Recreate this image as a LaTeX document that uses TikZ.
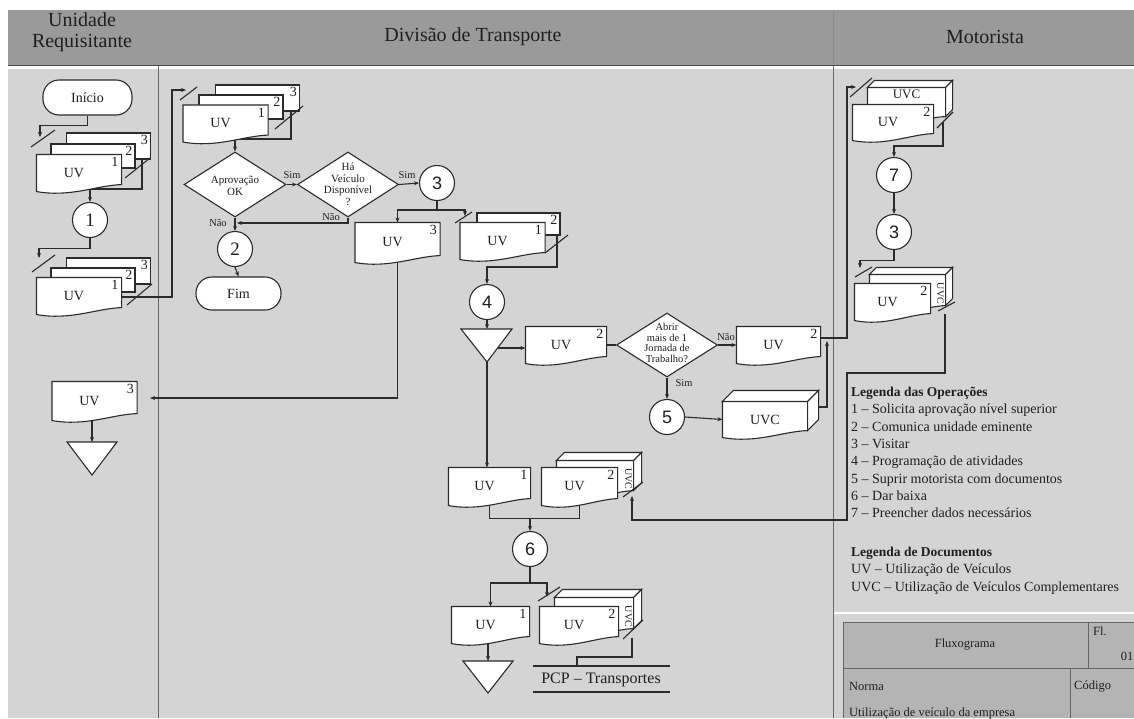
\documentclass[tikz,border=0pt]{standalone}
\usepackage{fontspec}
\setmainfont{Liberation Serif}
\newfontfamily\numsans{Liberation Sans}
\usetikzlibrary{arrows.meta,calc,shapes.geometric}

\pgfdeclarelayer{bg}
\pgfdeclarelayer{wires}
\pgfsetlayers{bg,wires,main}

\definecolor{linec}{HTML}{2B2B2B}
\definecolor{txtc}{HTML}{1F1F1F}
\definecolor{bodyc}{HTML}{D4D4D4}
\definecolor{hdrc}{HTML}{9A9A9A}
\definecolor{tbc}{HTML}{B4B4B4}
\definecolor{lanec}{HTML}{6A6A6A}

\makeatletter
% anchors shared by the flowchart symbols (taken over from the rectangle)
\def\fc@anchors{%
  \inheritsavedanchors[from=rectangle]%
  \inheritanchorborder[from=rectangle]%
  \inheritanchor[from=rectangle]{center}%
  \inheritanchor[from=rectangle]{north}%
  \inheritanchor[from=rectangle]{south}%
  \inheritanchor[from=rectangle]{east}%
  \inheritanchor[from=rectangle]{west}%
  \inheritanchor[from=rectangle]{north east}%
  \inheritanchor[from=rectangle]{north west}%
  \inheritanchor[from=rectangle]{south east}%
  \inheritanchor[from=rectangle]{south west}%
  \inheritanchor[from=rectangle]{mid}%
  \inheritanchor[from=rectangle]{base}%
}
% document symbol: rectangle whose bottom edge is a wave
\def\fc@wave{%
  \southwest \edef\fc@xa{\the\pgf@x}\edef\fc@ya{\the\pgf@y}%
  \northeast \edef\fc@xb{\the\pgf@x}\edef\fc@yb{\the\pgf@y}%
  \pgf@xc=\fc@xb\relax \advance\pgf@xc by -\fc@xa\relax
  \pgf@x=\fc@xa\relax \advance\pgf@x by 0.4\pgf@xc \edef\fc@xc{\the\pgf@x}%
  \pgf@x=\fc@xa\relax \advance\pgf@x by 0.7\pgf@xc \edef\fc@xd{\the\pgf@x}%
  \pgf@y=\fc@ya\relax \advance\pgf@y by -6pt \edef\fc@yc{\the\pgf@y}%
  \pgf@y=\fc@ya\relax \advance\pgf@y by 6pt \edef\fc@yd{\the\pgf@y}%
  \pgf@y=\fc@ya\relax \advance\pgf@y by 7pt \edef\fc@ye{\the\pgf@y}%
  \pgfpathmoveto{\pgfqpoint{\fc@xa}{\fc@yb}}%
  \pgfpathlineto{\pgfqpoint{\fc@xb}{\fc@yb}}%
  \pgfpathlineto{\pgfqpoint{\fc@xb}{\fc@ye}}%
  \pgfpathcurveto{\pgfqpoint{\fc@xd}{\fc@yd}}{\pgfqpoint{\fc@xc}{\fc@yc}}{\pgfqpoint{\fc@xa}{\fc@ya}}%
  \pgfpathclose
}
\pgfdeclareshape{fcdoc}{\fc@anchors \backgroundpath{\fc@wave}}
\pgfkeys{/tikz/box depth/.initial=10pt}
% document drawn as a box (top and side faces added)
\pgfdeclareshape{fcbox}{\fc@anchors
  \backgroundpath{%
    \fc@wave
    \edef\fc@d{\pgfkeysvalueof{/tikz/box depth}}%
    \pgf@x=\fc@xa\relax \advance\pgf@x by \fc@d\relax \edef\fc@xe{\the\pgf@x}%
    \pgf@x=\fc@xb\relax \advance\pgf@x by \fc@d\relax \edef\fc@xf{\the\pgf@x}%
    \pgf@y=\fc@yb\relax \advance\pgf@y by \fc@d\relax \edef\fc@yf{\the\pgf@y}%
    \pgf@y=\fc@ye\relax \advance\pgf@y by \fc@d\relax \edef\fc@yg{\the\pgf@y}%
    \pgfpathmoveto{\pgfqpoint{\fc@xa}{\fc@yb}}%
    \pgfpathlineto{\pgfqpoint{\fc@xe}{\fc@yf}}%
    \pgfpathlineto{\pgfqpoint{\fc@xf}{\fc@yf}}%
    \pgfpathlineto{\pgfqpoint{\fc@xb}{\fc@yb}}%
    \pgfpathclose
    \pgfpathmoveto{\pgfqpoint{\fc@xb}{\fc@yb}}%
    \pgfpathlineto{\pgfqpoint{\fc@xf}{\fc@yf}}%
    \pgfpathlineto{\pgfqpoint{\fc@xf}{\fc@yg}}%
    \pgfpathlineto{\pgfqpoint{\fc@xb}{\fc@ye}}%
    \pgfpathclose
  }%
}
\makeatother

\newcommand\docuv{UV\kern10pt}

\begin{document}
\begin{tikzpicture}[x=1pt, y=-1pt,
  wire/.style={draw=linec, line width=1.1pt},
  arr/.style={wire, -{Stealth[length=5pt,width=4pt]}},
  slashmark/.style={draw=linec, line width=1.1pt},
  outlined/.style={draw=linec, line width=1.1pt, fill=white},
  uvdoc/.style={outlined, shape=fcdoc, inner sep=0pt, minimum width=84pt, minimum height=36pt, font=\fontsize{14}{16}\selectfont, text=txtc},
  copydoc/.style={outlined, rectangle, inner sep=0pt, minimum width=84pt, minimum height=25pt},
  uvcbox/.style={outlined, shape=fcbox, inner sep=0pt, minimum width=84pt, minimum height=36pt, font=\fontsize{14}{16}\selectfont, text=txtc},
  num/.style={anchor=north east, inner sep=3pt, font=\fontsize{14}{16}\selectfont, text=txtc},
  uvcside/.style={rotate=-90, anchor=north, inner sep=1.5pt, font=\fontsize{10}{11}\selectfont, text=txtc},
  op/.style={outlined, circle, minimum size=35pt, inner sep=0pt, font=\numsans\fontsize{18}{20}\selectfont, text=txtc},
  opserif/.style={op, font=\fontsize{19}{20}\selectfont},
  term/.style={outlined, rectangle, rounded corners=16pt, minimum width=86pt, minimum height=34pt, inner sep=0pt, font=\fontsize{14}{16}\selectfont, text=txtc},
  decision/.style={outlined, diamond, minimum width=102pt, minimum height=65pt, inner sep=0pt},
  dectext/.style={align=center, inner sep=0pt, font=\fontsize{11}{11.5}\selectfont, text=txtc},
  branchlab/.style={inner sep=1pt, font=\fontsize{10.5}{12}\selectfont, text=txtc},
  laneline/.style={draw=lanec, line width=0.9pt},
  lanehead/.style={font=\fontsize{20}{21}\selectfont, text=txtc, align=center},
  legendtext/.style={anchor=north west, align=left, inner sep=0pt, font=\fontsize{14}{17.3}\selectfont, text=txtc},
  tbtext/.style={inner sep=0pt, font=\fontsize{12.5}{14}\selectfont, text=txtc},
  endmark/.style={outlined},
]
\useasboundingbox (0,0) rectangle (1134,718);
\clip (0,0) rectangle (1134,718);

% ---------- page background, header band, lanes, title block ----------
\begin{pgfonlayer}{bg}
  \fill[white] (0,0) rectangle (1134,718);
  \fill[bodyc] (8,68) rectangle (1134,718);
  \fill[hdrc] (8,10) rectangle (1134,65);
  \draw[black!70, line width=1pt] (8,65) -- (1134,65);
  \draw[white, line width=2.5pt] (8,67.5) -- (1134,67.5);
  \draw[laneline] (158,66) -- (158,718);
  \draw[laneline] (833,66) -- (833,718);
  \draw[black!45, line width=0.6pt] (833,10) -- (833,65);
  \draw[white, line width=2pt] (834,613) -- (1134,613);
  \fill[tbc] (843,622) rectangle (1134,718);
  \draw[black!60, line width=0.9pt] (843,718) -- (843,622) -- (1134,622);
  \draw[black!60, line width=0.9pt] (843,668) -- (1134,668);
  \draw[black!60, line width=0.9pt] (1088,622) -- (1088,668);
  \draw[black!60, line width=0.9pt] (1070,668) -- (1070,718);
\end{pgfonlayer}

\node[lanehead] (hU) at (82,32) {Unidade\\Requisitante};
\node[lanehead] (hD) at (473,37) {Divisão de Transporte};
\node[lanehead] (hM) at (985,37) {Motorista};

% ---------- Unidade Requisitante ----------
\node[term, minimum width=89pt, minimum height=35pt] (ini) at (87.5,97.5) {Início};
\node[copydoc, minimum height=26pt, label={[num]north east:3}] (L1a) at (108.5,146) {};
\node[copydoc, minimum height=24pt, label={[num]north east:2}] (L1b) at (93,156) {};
\node[uvdoc, label={[num]north east:1}] (L1c) at (79,173) {\docuv};
\node[opserif] (c1) at (90,220) {1};
\node[copydoc, minimum height=26pt, label={[num]north east:3}] (L2a) at (108.5,271) {};
\node[copydoc, minimum height=24pt, label={[num]north east:2}] (L2b) at (93,280) {};
\node[uvdoc, label={[num]north east:1}] (L2c) at (79,296) {\docuv};
\node[uvdoc, minimum height=38pt, label={[num]north east:3}] (L3) at (94.5,401) {\docuv};
\coordinate (t2top) at (92,442);
\draw[endmark] (67,442) -- (117,442) -- (92,475) -- cycle;

% ---------- Divisao de Transporte ----------
\node[copydoc, minimum height=26pt, label={[num]north east:3}] (T1a) at (257.5,98) {};
\node[copydoc, minimum height=24pt, label={[num]north east:2}] (T1b) at (241,107) {};
\node[uvdoc, label={[num]north east:1}] (T1c) at (225.5,123.5) {\docuv};
\node[decision] (d1) at (235,184.5) {};
\node[dectext] (d1t) at (235,186) {Aprovação\\OK};
\node[decision, minimum width=101pt] (d2) at (348,184.5) {};
\node[dectext] (d2t) at (348,184) {Há\\Veículo\\Disponível\\?};
\node[op] (c3a) at (437,183) {3};
\node[opserif] (c2) at (235,249) {2};
\node[term, minimum width=85pt, minimum height=33pt] (fim) at (238.5,293.5) {Fim};
\node[branchlab] (lS1) at (292,175) {Sim};
\node[branchlab] (lS2) at (407,175) {Sim};
\node[branchlab] (lN1) at (218,223) {Não};
\node[branchlab] (lN2) at (331,217) {Não};

\node[uvdoc, minimum height=39pt, label={[num]north east:3}] (U3) at (397.5,242.5) {\docuv};
\node[copydoc, minimum width=83pt, minimum height=22pt, label={[num]north east:2}] (M1b) at (518.5,224) {};
\node[uvdoc, label={[num]north east:1}] (M1a) at (502.5,241) {\docuv};
\node[op] (c4) at (487,302) {4};
\coordinate (t1top) at (487,329);
\coordinate (t1b) at (487,362);
\coordinate (t1r) at (498,348);
\draw[endmark] (461,329) -- (512,329) -- (487,362) -- cycle;
\node[uvdoc, minimum width=80pt, label={[num]north east:2}] (U2a) at (566,345) {\docuv};
\node[decision, minimum width=101pt, minimum height=64pt] (d3) at (667,345) {};
\node[dectext, font=\fontsize{10.5}{10.5}\selectfont] (d3t) at (667,343) {Abrir\\mais de 1\\Jornada de\\Trabalho?};
\node[uvdoc, minimum width=83pt, label={[num]north east:2}] (U2b) at (778.5,345) {\docuv};
\node[branchlab] (lN3) at (726,337) {Não};
\node[branchlab] (lS3) at (684,383) {Sim};
\node[op] (c5) at (667,417) {5};
\node[uvcbox, minimum height=35pt, box depth=11pt] (B1) at (765,419.5) {UVC};

\node[uvdoc, minimum width=81pt, minimum height=37pt, label={[num]north east:1}] (M2) at (489.5,486.5) {\docuv};
\node[uvcbox, minimum width=76pt, box depth=8pt, label={[uvcside]east:UVC}] (M3box) at (595,479) {};
\node[uvdoc, minimum width=75pt, minimum height=37pt, label={[num]north east:2}] (M3) at (579.5,486.5) {\docuv};
\node[op] (c6) at (530,549) {6};
\node[uvdoc, minimum width=77pt, label={[num]north east:1}] (M4) at (490.5,625) {\docuv};
\node[uvcbox, minimum width=78pt, minimum height=37pt, box depth=8pt, label={[uvcside]east:UVC}] (M5box) at (594,616.5) {};
\node[uvdoc, minimum width=78pt, label={[num]north east:2}] (M5) at (579,625) {\docuv};
\coordinate (t3top) at (488,661);
\draw[endmark] (463,661) -- (513,661) -- (488,693) -- cycle;
\node[inner sep=0pt, font=\fontsize{16}{18}\selectfont, text=txtc] (pcp) at (601,679.5) {PCP -- Transportes};
\coordinate (pcpA) at (577,666);
\draw[wire] (533,666) -- (670,666);
\draw[wire] (533,692) -- (670,692);

% ---------- Motorista ----------
\node[uvcbox, minimum width=77pt, minimum height=35pt, box depth=7pt,
      label={[anchor=north, inner sep=2pt, font=\fontsize{13}{14}\selectfont, text=txtc]north:UVC}] (R1box) at (906.5,105.5) {};
\node[uvdoc, minimum width=80pt, minimum height=35pt, label={[num]north east:2}] (R1) at (893,122.5) {\docuv};
\node[op] (c7) at (894,175) {7};
\node[op] (c3b) at (894,232) {3};
\node[uvcbox, minimum width=75pt, minimum height=37pt, box depth=7pt, label={[uvcside]east:UVC}] (R2box) at (907.5,293.5) {};
\node[uvdoc, minimum width=75pt, label={[num]north east:2}] (R2) at (892.5,302) {\docuv};

% ---------- legends ----------
\node[legendtext] (legOps) at (851,387) {{\fontsize{13.5}{17.3}\selectfont\bfseries Legenda das Operações}\\
  1 -- Solicita aprovação nível superior\\
  2 -- Comunica unidade eminente\\
  3 -- Visitar\\
  4 -- Programação de atividades\\
  5 -- Suprir motorista com documentos\\
  6 -- Dar baixa\\
  7 -- Preencher dados necessários};
\node[legendtext] (legDocs) at (851,547) {{\fontsize{13.5}{17.3}\selectfont\bfseries Legenda de Documentos}\\
  UV -- Utilização de Veículos\\
  UVC -- Utilização de Veículos Complementares};

% ---------- title block ----------
\node[tbtext] (tbF) at (965,645) {Fluxograma};
\node[tbtext, anchor=north west] (tbFl) at (1093,627) {Fl.};
\node[tbtext] (tbNum) at (1127,656) {01};
\node[tbtext, anchor=west] (tbNorma) at (849,686) {Norma};
\node[tbtext, anchor=west] (tbCod) at (1074,686) {Código};
\node[tbtext, anchor=west] (tbUse) at (849,713) {Utilização de veículo da empresa};

% ---------- copy marks on the flow lines ----------
\draw[slashmark] (31,147) -- (55,130);
\draw[slashmark] (125,178) -- (150,158);
\draw[slashmark] (32,272) -- (55,255);
\draw[slashmark] (127,305) -- (152,284);
\draw[slashmark] (180,100) -- (197,87);
\draw[slashmark] (275,129) -- (303,106);
\draw[slashmark] (455,223) -- (472,212);
\draw[slashmark] (545,253) -- (568,235);
\draw[slashmark] (850,97) -- (872,78);
\draw[slashmark] (937,128) -- (953,112);
\draw[slashmark] (855,277) -- (872,267);
\draw[slashmark] (938,311) -- (955,302);
\draw[slashmark] (623,497) -- (643,482);
\draw[slashmark] (538,601) -- (560,587);
\draw[slashmark] (623,639) -- (643,620);

% ---------- flow lines ----------
\begin{pgfonlayer}{wires}
  \coordinate (a1) at (40,137);
  \draw[arr] (ini.south) -- ++(0,10) -| (a1);
  \coordinate (L1o) at (142,159);
  \draw[arr] (L1o) -- (142,189) -| (c1.north);
  \coordinate (a3) at (39,258);
  \draw[arr] (c1.south) -- ++(0,10) -| (a3);
  \coordinate (L2o) at (121,297);
  \coordinate (a4) at (186,90);
  \draw[arr] (L2o) -- (172,297) |- (a4);
  \coordinate (T1o) at (291,111);
  \draw[arr] (T1o) -- (291,139) -| (d1.north);
  \draw[arr] (d1.east) -- (d2.west);
  \draw[arr] (d2.east) -- (c3a.west);
  \coordinate (j1) at (237,223);
  \draw[arr] (d2.south) |- (j1);
  \draw[arr] (d1.south) -- (c2.north);
  \draw[arr] (c2.south) -- (fim.north);
  \coordinate (j2) at (437,210);
  \draw[wire] (c3a.south) -- (j2);
  \draw[arr] (j2) -| (U3.north);
  \coordinate (a11) at (465,216);
  \draw[arr] (j2) -| (a11);
  \coordinate (a12) at (150,398);
  \draw[arr] (U3.south) |- (a12);
  \draw[arr] (t2top |- L3.south) -- (t2top);
  \coordinate (M1o) at (557,235);
  \draw[arr] (M1o) -- (557,267) -| (c4.north);
  \draw[arr] (c4.south) -- (t1top);
  \draw[arr] (t1r) -- (t1r -| U2a.west);
  \draw[wire] (U2a.east) -- (d3.west);
  \draw[arr] (d3.east) -- (U2b.west);
  \draw[arr] (d3.south) -- (c5.north);
  \draw[arr] (c5.east) -- (B1.west);
  \coordinate (B1o) at (817,407);
  \coordinate (a20) at (827,341);
  \draw[arr] (B1o) -- (827,407) -- (a20);
  \coordinate (U2bo) at (820,338);
  \coordinate (a21) at (856,87);
  \draw[arr] (U2bo) -- (847,338) |- (a21);
  \coordinate (R1o) at (943,122);
  \draw[arr] (R1o) -- (943,146) -| (c7.north);
  \draw[arr] (c7.south) -- (c3b.north);
  \coordinate (a24) at (860,268);
  \draw[arr] (c3b.south) -- ++(0,10) -| (a24);
  \coordinate (R2o) at (945,314);
  \coordinate (a25) at (632,496);
  \draw[arr] (R2o) -- (945,373) -- (847,373) -- (847,520) -| (a25);
  \draw[arr] (t1b) -- (t1b |- M2.north);
  \draw[wire] (M2.south) -- ++(0,13) -| (M3.south);
  \coordinate (j27) at (530,518);
  \draw[arr] (j27) -- (c6.north);
  \coordinate (j28) at (530,583);
  \draw[wire] (c6.south) -- (j28);
  \draw[arr] (j28) -| (M4.north);
  \coordinate (a28) at (547,597);
  \draw[arr] (j28) -| (a28);
  \draw[arr] (t3top |- M4.south) -- (t3top);
  \coordinate (M5o) at (632,638);
  \draw[wire] (M5o) -- (632,657) -| (pcpA);
\end{pgfonlayer}
\end{tikzpicture}
\end{document}
